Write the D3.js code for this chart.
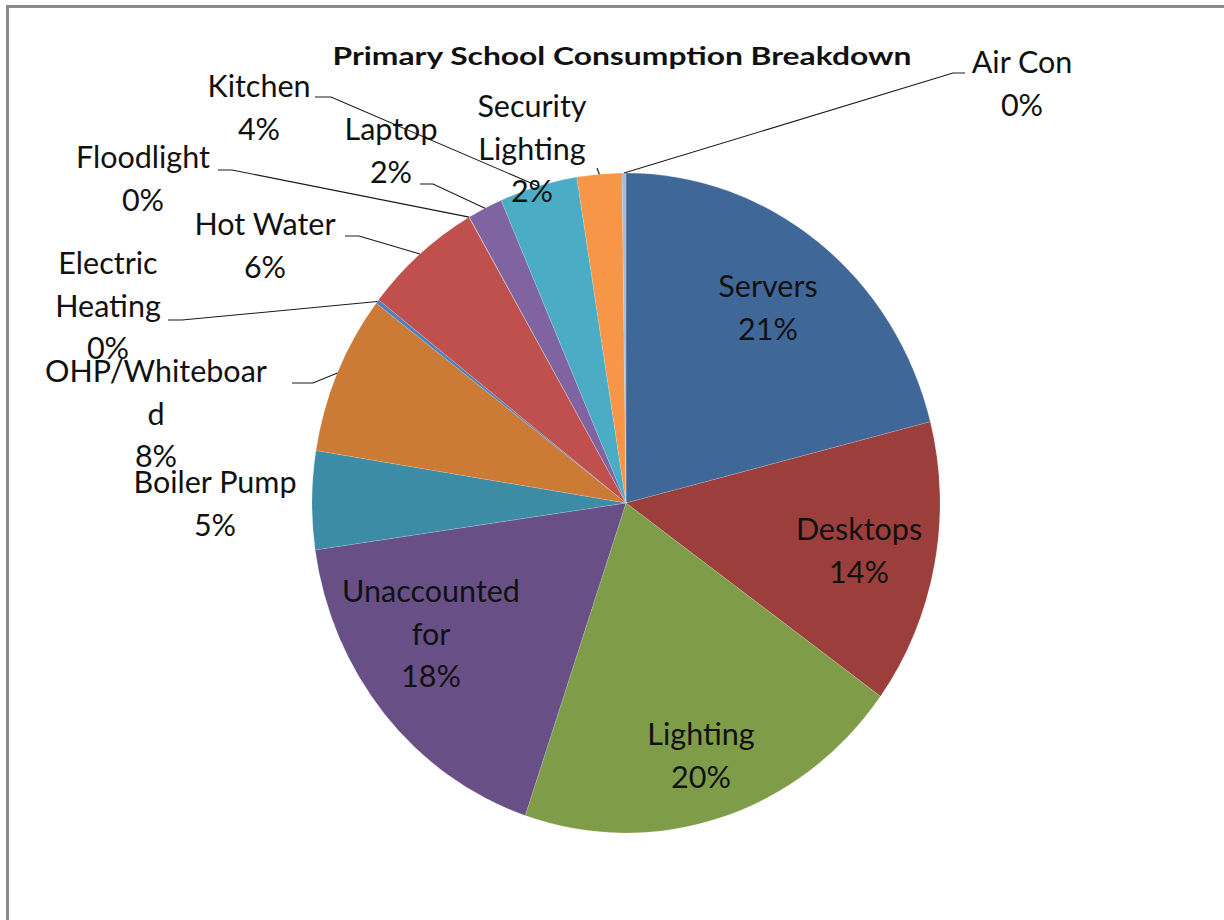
<!DOCTYPE html>
<html>
<head>
<meta charset="utf-8">
<script src="https://cdn.jsdelivr.net/npm/d3@7"></script>
<style>
  html, body { margin: 0; padding: 0; background: #fff; }
  svg { display: block; }
  text { font-family: Lato, "Open Sans", sans-serif; fill: #111; }
</style>
</head>
<body>
<svg id="chart" width="1224" height="920"></svg>
<script>
// Energy consumption shares (percent) for each end use, clockwise from 12 o'clock
const categories = [
  "Servers", "Desktops", "Lighting", "Unaccounted for", "Boiler Pump",
  "OHP/Whiteboard", "Electric Heating", "Hot Water", "Floodlight",
  "Laptop", "Kitchen", "Security Lighting", "Air Con"
];
const shares = [21.0, 13.9, 20.2, 17.5, 4.8, 7.8, 0.2, 6.1, 0.02, 1.8, 4.0, 2.3, 0.2];
const sliceColors = [
  "#3f6898", "#9c3f3c", "#7f9c48", "#684f86", "#3b8ca4",
  "#cb7b36", "#4f81bd", "#c0504d", "#9bbb59",
  "#8064a2", "#4bacc6", "#f79646", "#a6bbdc"
];
// Label text split into lines (the long name wraps the way the chart shows it)
const labelLines = [
  ["Servers"], ["Desktops"], ["Lighting"], ["Unaccounted", "for"], ["Boiler Pump"],
  ["OHP/Whiteboar", "d"], ["Electric", "Heating"], ["Hot Water"], ["Floodlight"],
  ["Laptop"], ["Kitchen"], ["Security", "Lighting"], ["Air Con"]
];
const title = "Primary School Consumption Breakdown";

// Label placement: centre x and first baseline; leader = start of the leader stub
const labelLayout = {
  "Servers":           { x: 768, y: 297 },
  "Desktops":          { x: 859, y: 540 },
  "Lighting":          { x: 701, y: 745 },
  "Unaccounted for":   { x: 431, y: 602 },
  "Boiler Pump":       { x: 215, y: 493 },
  "OHP/Whiteboard":    { x: 156, y: 382, leader: [292, 383], stub: 21 },
  "Electric Heating":  { x: 108, y: 274, leader: [168, 320], stub: 14 },
  "Hot Water":         { x: 265, y: 235, leader: [345, 236], stub: 14 },
  "Floodlight":        { x: 143, y: 168, leader: [218, 170], stub: 14 },
  "Laptop":            { x: 391, y: 140, leader: [420, 184], stub: 13 },
  "Kitchen":           { x: 259, y:  97, leader: [315,  97], stub: 16 },
  "Security Lighting": { x: 532, y: 117, leader: [597, 168], stub: 0 },
  "Air Con":           { x: 1022, y: 73, leader: [965,  73], stub: -12 }
};

const W = 1224, H = 920;
const cx = 626, cy = 503;
const ry = 330, rx = 314;           // pie is drawn slightly narrower than tall
const lineGap = 42.5;

const svg = d3.select("#chart");

// chart frame
svg.append("rect")
  .attr("x", 7.5).attr("y", 6.5)
  .attr("width", W + 20).attr("height", H + 20)
  .attr("fill", "#fff")
  .attr("stroke", "#8a8a8a")
  .attr("stroke-width", 3);

const data = categories.map((c, i) => ({ name: c, value: shares[i], color: sliceColors[i], lines: labelLines[i] }));
const total = d3.sum(data, d => d.value);
const pct = d3.format(".0%");

const pie = d3.pie().value(d => d.value).sort(null);
const arcs = pie(data);
const arc = d3.arc().innerRadius(0).outerRadius(ry);

const pieG = svg.append("g")
  .attr("transform", `translate(${cx},${cy}) scale(${rx / ry},1)`);

pieG.selectAll("path")
  .data(arcs)
  .join("path")
  .attr("d", arc)
  .attr("fill", d => d.data.color)
  .attr("stroke", "rgba(255,255,255,0.3)")
  .attr("stroke-width", 0.5);

// point on the rim at the middle of a slice, in page coordinates
function rimPoint(a) {
  const mid = (a.startAngle + a.endAngle) / 2;
  return [cx + rx * Math.sin(mid), cy - ry * Math.cos(mid)];
}

// leader lines
const leaderG = svg.append("g");
arcs.forEach(a => {
  const L = labelLayout[a.data.name];
  if (!L.leader) return;
  const [px, py] = rimPoint(a);
  const [sx, sy] = L.leader;
  const pts = L.stub ? [[sx, sy], [sx + L.stub, sy], [px, py]] : [[sx, sy], [px, py]];
  leaderG.append("path")
    .attr("d", d3.line()(pts))
    .attr("fill", "none")
    .attr("stroke", "#1a1a1a")
    .attr("stroke-width", 1.1);
});

// data labels
const labelG = svg.append("g");
arcs.forEach(a => {
  const L = labelLayout[a.data.name];
  const lines = a.data.lines.concat([pct(a.data.value / total)]);
  const t = labelG.append("text")
    .attr("text-anchor", "middle")
    .attr("font-size", 30.5);
  lines.forEach((s, i) => {
    t.append("tspan")
      .attr("x", L.x)
      .attr("y", L.y + i * lineGap)
      .text(s);
  });
});

// title
svg.append("text")
  .attr("x", 622).attr("y", 65)
  .attr("text-anchor", "middle")
  .attr("font-size", 25)
  .attr("font-weight", "bold")
  .attr("textLength", 579)
  .attr("lengthAdjust", "spacingAndGlyphs")
  .text(title);
</script>
</body>
</html>
